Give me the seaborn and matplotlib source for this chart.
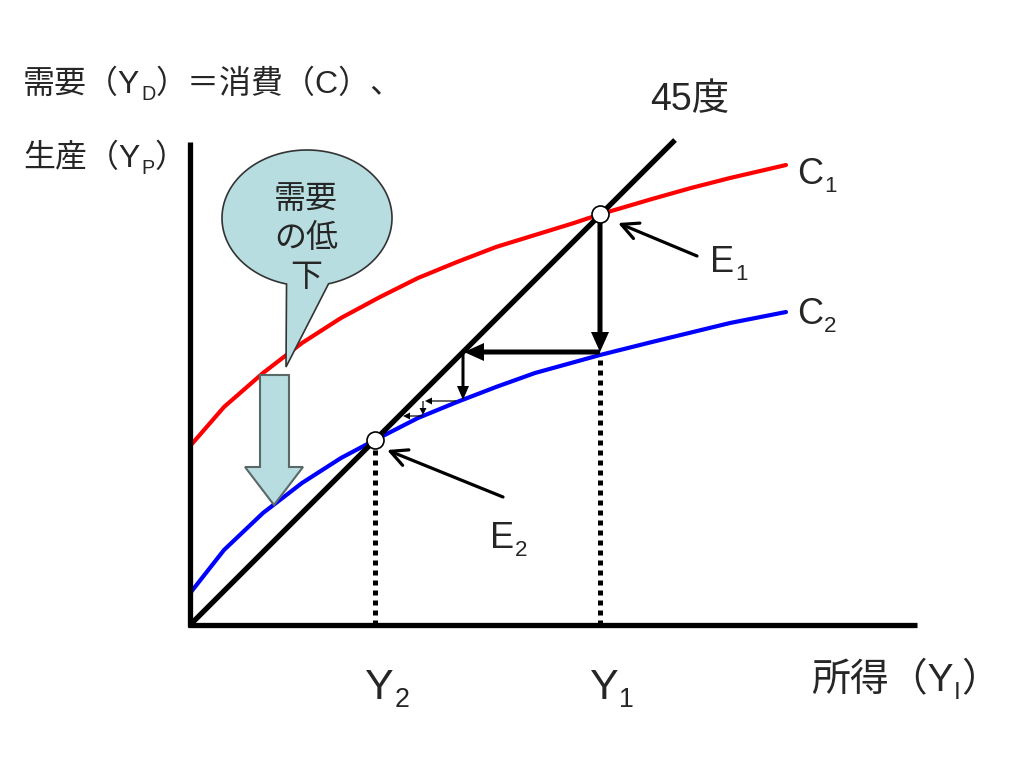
import numpy as np
import pandas as pd
import matplotlib
matplotlib.use("Agg")
import matplotlib.pyplot as plt
from matplotlib.patches import Polygon
import seaborn as sns

sns.set_style("white")
plt.rcParams['font.family'] = ['Liberation Sans', 'Noto Sans CJK JP', 'DejaVu Sans']

# curves (income on x, demand on y; origin at axes corner)
c1_x = [1, 34, 73, 112, 151, 190, 228, 267, 306, 345, 384, 411, 462, 501, 540, 596]
c1_y = [180, 218, 252, 282, 307, 328, 347, 363, 378, 390, 402, 411, 426, 437, 447, 460]
c2_x = [1, 34, 73, 112, 151, 185, 228, 267, 306, 345, 410, 462, 540, 596]
c2_y = [33, 75, 112, 142, 167, 185, 207, 223, 238, 252, 270, 283, 302, 313]
line45_x = [0, 485]
line45_y = [0, 485]

# equilibria
eq_x = [410, 185]
eq_y = [411, 185]

# cobweb adjustment path (thick, then thin steps)
web_big = [(410, 402, 410, 273), (410, 273, 274, 273), (273, 273, 273, 225)]
web_small = [(266, 224, 235, 224), (233, 224, 233, 210), (233, 209, 213, 209)]

curves = pd.concat([
    pd.DataFrame({'x': c1_x, 'y': c1_y, 'curve': 'C1'}),
    pd.DataFrame({'x': c2_x, 'y': c2_y, 'curve': 'C2'}),
])

fig = plt.figure(figsize=(10.24, 7.68), dpi=100)
ax = fig.add_axes([0, 0, 1, 1])
ax.set_xlim(-190, 834)
ax.set_ylim(-143, 625)
ax.axis('off')

sns.lineplot(data=curves, x='x', y='y', hue='curve', palette={'C1': '#ff0000', 'C2': '#0000ff'},
             lw=3, legend=False, ax=ax, zorder=3, solid_joinstyle='round')
ax.plot(line45_x, line45_y, color='black', lw=3.8, solid_capstyle='butt', zorder=4)

# axes
ax.plot([0, 0], [-2, 483], color='black', lw=3.8, solid_capstyle='butt', zorder=5)
ax.plot([-2, 727], [0, 0], color='black', lw=3.8, solid_capstyle='butt', zorder=5)

# dotted drops to the income axis
ax.plot([185, 185], [0, 177], color='black', lw=3.6, ls=(0, (1, 1)), dash_capstyle='butt', zorder=4)
ax.plot([410, 410], [0, 270], color='black', lw=3.6, ls=(0, (1, 1)), dash_capstyle='butt', zorder=4)

# cobweb arrows
for i, (x0, y0, x1, y1) in enumerate(web_big):
    w = 5 if i < 2 else 3
    ax.arrow(x0, y0, x1 - x0, y1 - y0, width=w, head_width=18 if i < 2 else 12,
             head_length=20 if i < 2 else 14, length_includes_head=True,
             fc='black', ec='black', lw=0, zorder=6)
for x0, y0, x1, y1 in web_small:
    ax.arrow(x0, y0, x1 - x0, y1 - y0, width=1.2, head_width=7, head_length=7,
             length_includes_head=True, fc='black', ec='black', lw=0, zorder=6)

# equilibrium markers
ax.scatter(eq_x, eq_y, s=150, facecolor='white', edgecolor='black', linewidth=1.2, zorder=8)

# E labels with pointers
ax.annotate('', xy=(428, 402), xytext=(507, 369),
            arrowprops=dict(arrowstyle='->,head_length=0.6,head_width=0.3', lw=2.3,
                            color='black', shrinkA=0, shrinkB=0, mutation_scale=20))
ax.annotate('', xy=(197, 175), xytext=(313, 128),
            arrowprops=dict(arrowstyle='->,head_length=0.6,head_width=0.3', lw=2.3,
                            color='black', shrinkA=0, shrinkB=0, mutation_scale=20))


def sub_label(x, y, base, sub, tail='', size=26, ha='left'):
    t = ax.text(x, y, base, fontsize=size, va='center', ha=ha, zorder=9)
    s = ax.annotate(sub, xy=(1, 0), xycoords=t, xytext=(0.5, -size * 0.12),
                    textcoords='offset points', fontsize=size * 0.62, va='bottom', ha='left')
    if tail:
        ax.annotate(tail, xy=(1, 0), xycoords=(s, t), xytext=(0.5, 0),
                    textcoords='offset points', fontsize=size, va='bottom', ha='left')


sub_label(607, 450, 'C', '1', size=26)
sub_label(607, 310, 'C', '2', size=26)
sub_label(520, 362, 'E', '1', size=26)
sub_label(300, 86, 'E', '2', size=26)
sub_label(175, -63, 'Y', '2', size=31)
sub_label(400, -63, 'Y', '1', size=31)
sub_label(621, -56, '所得（Y', 'I', '）', size=28)
sub_label(-167, 540, '需要（Y', 'D', '）＝消費（C）、', size=23)
sub_label(-167, 466, '生産（Y', 'P', '）', size=23)
ax.text(460, 525, '45度', fontsize=27, va='center', ha='left')

# speech balloon "demand falls"
theta = np.linspace(0, 2 * np.pi, 240)
ell = np.column_stack([117 + 85 * np.cos(theta), 407 + 68 * np.sin(theta)])
start = np.argmin(np.abs(theta - np.deg2rad(256)))
end = np.argmin(np.abs(theta - np.deg2rad(284)))
pts = np.vstack([ell[end:], ell[:start + 1], [[96, 258]]])
ax.add_patch(Polygon(pts, closed=True, facecolor='#b7dde0', edgecolor='#333333', lw=1.2, zorder=7))
ax.text(116, 386, '需要\nの低\n下', fontsize=23, ha='center', va='center', linespacing=1.4, zorder=9)

# block arrow pointing down
blk = [[70, 250], [99, 250], [99, 158], [113, 158], [84, 120], [55, 158], [70, 158]]
ax.add_patch(Polygon(blk, closed=True, facecolor='#b7dde0', edgecolor='#5a6868', lw=1.5, zorder=7))

fig.savefig('out.png', dpi=100)
